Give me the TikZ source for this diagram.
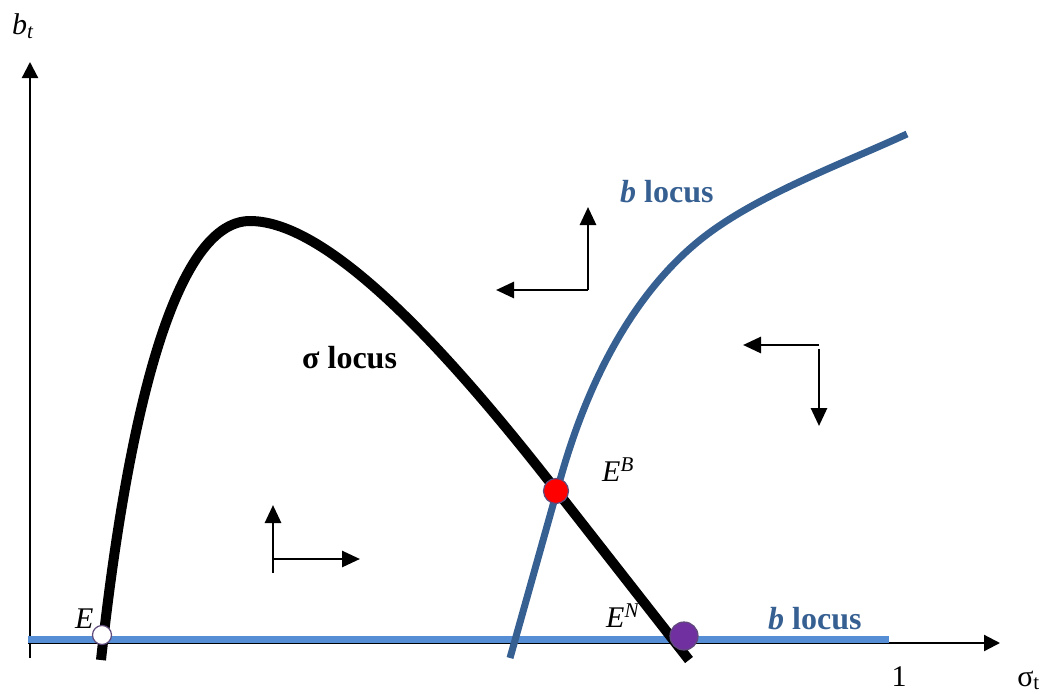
\documentclass[tikz,border=0pt]{standalone}
\usepackage{fontspec}
\setmainfont{Liberation Serif}
\usetikzlibrary{arrows.meta}
\definecolor{locusblue}{RGB}{55,96,146}
\definecolor{lineblue}{RGB}{85,142,213}
\definecolor{dotedge}{RGB}{96,74,123}
\definecolor{eqpurple}{RGB}{112,48,160}
\tikzset{axis/.style={line width=2.2pt,-{Triangle[length=16pt,width=16pt]}}, phase/.style={line width=2.8pt,-{Triangle[length=18pt,width=16pt]}}, sigloc/.style={line width=10pt}, bloc/.style={line width=7pt,locusblue}, eqdot/.style={circle,draw=dotedge,line width=1.2pt,inner sep=0pt}, lbl/.style={font=\fontsize{30}{34}\selectfont}, blbl/.style={font=\fontsize{32}{36}\selectfont\bfseries}}
\begin{document}
\begin{tikzpicture}[x=1pt,y=-1pt]
\useasboundingbox (0,0) rectangle (1048,693);
\coordinate (ybot) at (30,658); \coordinate (ytop) at (30,62); \coordinate (xbeg) at (28,643); \coordinate (xend) at (1000,643);
\coordinate (lbeg) at (28,639); \coordinate (lend) at (889,639);
\draw[axis] (ybot)--(ytop); \draw[axis] (xbeg)--(xend);
\draw[line width=7pt,lineblue] (lbeg)--(lend);
\draw[sigloc] (101,660) .. controls (125,440) and (170,221) .. (250,221) .. controls (330,221) and (450,354) .. (556,490) -- (689,660);
\draw[bloc] (510,658) -- (560,480) .. controls (593.6,360) and (645.4,284.1) .. (700,240) .. controls (754.6,195.9) and (843.3,163.4) .. (907,134);
\coordinate (a1) at (273,559); \coordinate (a1b) at (273,573); \coordinate (a1u) at (273,505); \coordinate (a1r) at (360,559);
\coordinate (a2) at (588,290); \coordinate (a2u) at (588,207); \coordinate (a2l) at (496,290);
\coordinate (a3) at (819,345); \coordinate (a3b) at (819,349); \coordinate (a3l) at (743,345); \coordinate (a3d) at (819,426);
\draw[phase] (a1b)--(a1u); \draw[phase] (a1)--(a1r);
\draw[phase] (a2)--(a2u); \draw[phase] (a2)--(a2l);
\draw[phase] (a3)--(a3l); \draw[phase] (a3b)--(a3d);
\node[eqdot,fill=white,minimum size=19pt] (E) at (102,635) {};
\node[eqdot,fill=red,minimum size=25pt] (EB) at (556,491) {};
\node[eqdot,fill=eqpurple,minimum size=28pt] (EN) at (684,636) {};
\node[lbl,anchor=base west,inner sep=0pt] (bt) at (12,35) {\textit{b}\textsubscript{\textit{t}}};
\node[lbl,anchor=base east,inner sep=0pt] (st) at (1040,686) {σ\textsubscript{t}};
\node[lbl,anchor=base,inner sep=0pt] (one) at (899,686) {1};
\node[lbl,anchor=base west,inner sep=0pt] (Elbl) at (75,628) {\textit{E}};
\node[lbl,anchor=base west,inner sep=0pt] (EBlbl) at (602,481) {\textit{E}\textsuperscript{\textit{B}}};
\node[lbl,anchor=base west,inner sep=0pt] (ENlbl) at (606,627) {\textit{E}\textsuperscript{\textit{N}}};
\node[blbl,anchor=base west,inner sep=0pt] (sig) at (302,368) {σ locus};
\node[blbl,anchor=base west,inner sep=0pt,text=locusblue] (bup) at (620,202) {\textit{b} locus};
\node[blbl,anchor=base west,inner sep=0pt,text=locusblue] (blow) at (768,629) {\textit{b} locus};
\end{tikzpicture}
\end{document}
